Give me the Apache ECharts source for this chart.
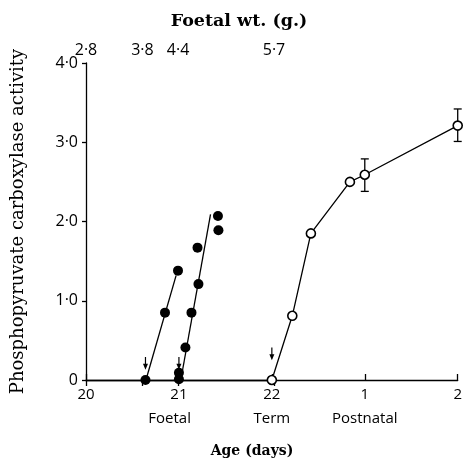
<!DOCTYPE html>
<html>
<head>
<meta charset="utf-8">
<script src="https://cdn.jsdelivr.net/npm/echarts@6/dist/echarts.min.js"></script>
<style>html,body{margin:0;padding:0;background:#fff}#c{width:465px;height:459px}</style>
</head>
<body>
<div id="c"></div>
<script>
// Age axis positions: 0 = day 20, 1 = day 21, 2 = day 22 (term), 3 = postnatal day 1, 4 = postnatal day 2
const bottomTickLabels = ['20', '21', '22', '1', '2'];
const subLabelPos = [0.9, 2, 3];
const subLabels = ['Foetal', 'Term', 'Postnatal'];
const topTickPos = [0, 0.6, 0.98, 2];
const topTickLabels = ['2·8', '3·8', '4·4', '5·7'];

// Foetal group A (filled circles) and its fitted line
const foetalAx = [0.64, 0.85, 0.99];
const foetalAy = [0, 0.85, 1.38];
const fitAx = [0.645, 0.97];
const fitAy = [0, 1.32];

// Foetal group B (filled circles) and its fitted line
const foetalBx = [1.0, 1.0, 1.07, 1.135, 1.21, 1.20, 1.42, 1.425];
const foetalBy = [0.01, 0.09, 0.41, 0.85, 1.21, 1.67, 2.07, 1.89];
const fitBx = [1.02, 1.34];
const fitBy = [0, 2.09];

// Postnatal (open circles)
const postX = [2.0, 2.22, 2.42, 2.84, 3.0, 4.0];
const postY = [0, 0.81, 1.85, 2.50, 2.59, 3.21];
const errX = [3.0, 4.0];
const errLow = [2.38, 3.01];
const errHigh = [2.79, 3.42];

// Arrows
const arrowX = [0.64, 1.0, 2.0];
const arrowTip = [0.13, 0.13, 0.25];
const arrowTail = [0.29, 0.29, 0.41];

const zip = (a, b) => a.map((v, i) => [v, b[i]]);
const sans = 'Open Sans';
const serif = 'DejaVu Serif';

const chart = echarts.init(document.getElementById('c'), null, {renderer: 'canvas'});
chart.setOption({
  animation: false,
  backgroundColor: '#fff',
  title: [
    {text: 'Foetal wt. (g.)', left: 234, top: 7, textAlign: 'center',
     textStyle: {fontFamily: serif, fontWeight: 'bold', fontSize: 17.5, color: '#000'}},
    {text: 'Age (days)', left: 247, top: 439, textAlign: 'center',
     textStyle: {fontFamily: serif, fontWeight: 'bold', fontSize: 14, color: '#000'}}
  ],
  grid: [
    {left: 86, right: 3, top: 63, bottom: 79},
    {left: 86, width: 188, top: 63, bottom: 79}
  ],
  xAxis: [
    {type: 'value', gridIndex: 0, position: 'bottom', min: 0, max: 4, interval: 1,
     splitLine: {show: false},
     axisLine: {lineStyle: {color: '#000', width: 1.3}},
     axisTick: {inside: true, length: 6, lineStyle: {color: '#000', width: 1.3}},
     axisLabel: {color: '#000', fontFamily: sans, fontSize: 15, margin: 7,
       formatter: v => bottomTickLabels[Math.round(v)]}},
    {type: 'value', gridIndex: 1, position: 'top', min: 0, max: 2,
     splitLine: {show: false},
     axisLine: {lineStyle: {color: '#000', width: 1.3}},
     axisTick: {inside: true, length: 6, customValues: topTickPos, lineStyle: {color: '#000', width: 1.3}},
     axisLabel: {color: '#000', fontFamily: sans, fontSize: 16, margin: 5, customValues: topTickPos,
       formatter: v => { const i = topTickPos.findIndex(p => Math.abs(p - v) < 1e-6); return i >= 0 ? topTickLabels[i] : ''; }}},
    {type: 'value', gridIndex: 0, position: 'bottom', offset: 23, min: 0, max: 4,
     splitLine: {show: false}, axisLine: {show: false}, axisTick: {show: false},
     axisLabel: {color: '#000', fontFamily: sans, fontSize: 15, margin: 8, customValues: subLabelPos,
       formatter: v => { const i = subLabelPos.findIndex(p => Math.abs(p - v) < 1e-6); return i >= 0 ? subLabels[i] : ''; }}}
  ],
  yAxis: [
    {type: 'value', gridIndex: 0, min: 0, max: 4, interval: 1,
     splitLine: {show: false},
     axisLine: {show: true, lineStyle: {color: '#000', width: 1.3}},
     axisTick: {show: true, inside: false, length: 4, lineStyle: {color: '#000', width: 1.3}},
     axisLabel: {color: '#000', fontFamily: sans, fontSize: 16, margin: 8,
       formatter: v => v === 0 ? '0' : v.toFixed(1).replace('.', '·')},
     name: 'Phosphopyruvate carboxylase activity', nameLocation: 'middle', nameGap: 59,
     nameTextStyle: {fontFamily: serif, fontSize: 18, color: '#000'}},
    {type: 'value', gridIndex: 1, min: 0, max: 4, show: false}
  ],
  series: [
    {type: 'line', data: zip(fitAx, fitAy), symbol: 'none', lineStyle: {color: '#000', width: 1.3}, z: 2},
    {type: 'line', data: zip(fitBx, fitBy), symbol: 'none', lineStyle: {color: '#000', width: 1.3}, z: 2},
    {type: 'scatter', data: zip(foetalAx, foetalAy), symbol: 'circle', symbolSize: 10,
     itemStyle: {color: '#000', opacity: 1}, z: 3},
    {type: 'scatter', data: zip(foetalBx, foetalBy), symbol: 'circle', symbolSize: 10,
     itemStyle: {color: '#000', opacity: 1}, z: 3},
    {type: 'line', data: zip(postX, postY), symbol: 'circle', symbolSize: 9, showSymbol: true,
     lineStyle: {color: '#000', width: 1.3},
     itemStyle: {color: '#fff', borderColor: '#000', borderWidth: 1.6}, z: 3},
    {type: 'custom', z: 2,
     data: errX.map((x, i) => [x, errLow[i], errHigh[i]]),
     renderItem: (params, api) => {
       const lo = api.coord([api.value(0), api.value(1)]);
       const hi = api.coord([api.value(0), api.value(2)]);
       const w = 4;
       return {type: 'group', children: [
         {type: 'line', shape: {x1: lo[0], y1: lo[1], x2: hi[0], y2: hi[1]}, style: {stroke: '#000', lineWidth: 1.3}},
         {type: 'line', shape: {x1: lo[0] - w, y1: lo[1], x2: lo[0] + w, y2: lo[1]}, style: {stroke: '#000', lineWidth: 1.3}},
         {type: 'line', shape: {x1: hi[0] - w, y1: hi[1], x2: hi[0] + w, y2: hi[1]}, style: {stroke: '#000', lineWidth: 1.3}}
       ]};
     }},
    {type: 'custom', z: 4,
     data: arrowX.map((x, i) => [x, arrowTip[i], arrowTail[i]]),
     renderItem: (params, api) => {
       const tip = api.coord([api.value(0), api.value(1)]);
       const tail = api.coord([api.value(0), api.value(2)]);
       return {type: 'group', children: [
         {type: 'line', shape: {x1: tail[0], y1: tail[1], x2: tip[0], y2: tip[1] - 4}, style: {stroke: '#000', lineWidth: 1.2}},
         {type: 'polygon', shape: {points: [[tip[0], tip[1]], [tip[0] - 2.5, tip[1] - 6], [tip[0] + 2.5, tip[1] - 6]]}, style: {fill: '#000'}}
       ]};
     }}
  ]
});
</script>
</body>
</html>
